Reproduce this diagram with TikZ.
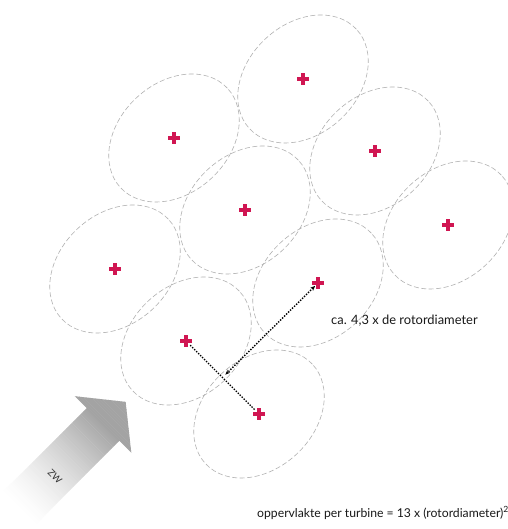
\documentclass[tikz,border=0pt]{standalone}
\usepackage{fontspec}
\setmainfont{Lato}
\usetikzlibrary{arrows.meta,calc}
\definecolor{crosscol}{RGB}{208,22,82}
\definecolor{ringcol}{RGB}{178,178,178}
\tikzset{
 ring/.style={draw=ringcol, line width=0.6pt, dash pattern=on 5pt off 2.5pt},
 turb/.pic={\draw[crosscol, line width=3.4pt] (-6,0)--(6,0) (0,-6)--(0,6);},
 dotline/.style={line width=1.4pt, dash pattern=on 1.4pt off 1.4pt},
 lbl/.style={inner sep=0pt, anchor=base west, text=black!90},
}
\begin{document}
\begin{tikzpicture}[x=1pt,y=1pt]
\useasboundingbox (0,0) rectangle (507,529);
\fill[white] (0,0) rectangle (507,529);
% turbine positions
\coordinate (t1) at (303,450);
\coordinate (t2) at (174,391);
\coordinate (t3) at (375,378);
\coordinate (t4) at (245,319);
\coordinate (t5) at (448,304);
\coordinate (t6) at (115,260);
\coordinate (t7) at (318,246);
\coordinate (t8) at (186,188);
\coordinate (t9) at (259,115);
% rotor areas
\foreach \n in {t1,t2,t3,t4,t5,t6,t7,t8,t9}
  \draw[ring, rotate around={43:(\n)}] (\n) ellipse [x radius=73, y radius=55];
% wind arrow
\begin{scope}[shift={(103,104.5)}, rotate=45]
  \clip (32,0) -- (0,40) -- (0,23) -- (-125,23) -- (-125,-23) -- (0,-23) -- (0,-40) -- cycle;
  \foreach \i in {0,...,80} {
    \pgfmathsetmacro\xx{-125+2*\i}
    \pgfmathsetmacro\tt{max(0,min(1,(\xx+120)/120))}
    \pgfmathsetmacro\pc{36*\tt^1.4}
    \fill[black!\pc] (\xx,-45) rectangle (\xx+2.3,45);
  }
\end{scope}
\node[font=\fontsize{9.5}{10}\selectfont, text=black!80, rotate=-45] (zw) at (55,52) {ZW};
% distance markers
\coordinate (m) at ($(t8)!0.5!(t9)$);
\draw[dotline, shorten <=6pt, shorten >=6pt] (t8) -- (t9);
\draw[dotline, {Stealth[length=5pt,width=4pt]}-{Stealth[length=5pt,width=4pt]}, shorten <=4pt, shorten >=4pt] (t7) -- (m);
% turbines
\foreach \n in {t1,t2,t3,t4,t5,t6,t7,t8,t9}
  \pic at (\n) {turb};
% labels
\node[lbl, font=\fontsize{12.9}{14}\selectfont] (lab1) at (331,204) {ca. 4,3 x de rotordiameter};
\node[lbl, font=\fontsize{12.2}{14}\selectfont] (lab2) at (257,12) {oppervlakte per turbine = 13 x (rotordiameter)\textsuperscript{2}};
\end{tikzpicture}
\end{document}
